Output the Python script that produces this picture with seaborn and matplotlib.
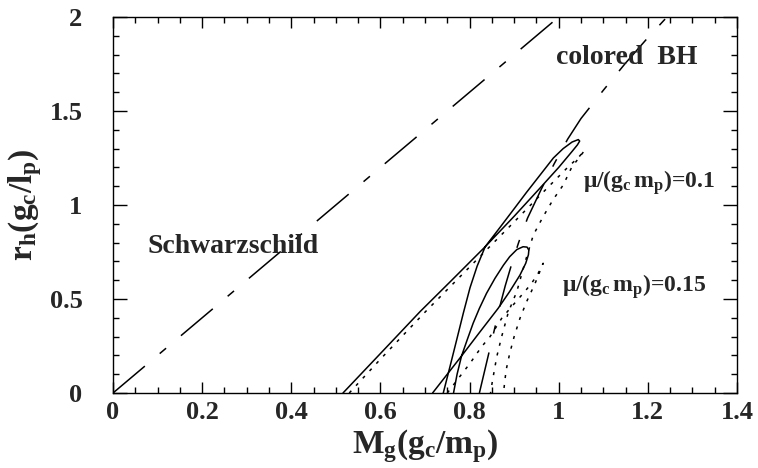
import matplotlib
matplotlib.use("Agg")
import matplotlib.pyplot as plt
import seaborn as sns
import pandas as pd

# ---------------- data ----------------
schw_M = [0.0, 1.0]
schw_r = [0.0, 2.0]

cbh_M = [0.822, 0.830, 0.840, 0.850, 0.860, 0.870, 0.880, 0.895, 0.910, 0.930, 0.960, 0.990,
         1.020, 1.050, 1.100, 1.150, 1.200, 1.243]
cbh_r = [0.00, 0.08, 0.18, 0.28, 0.38, 0.48, 0.57, 0.69, 0.80, 0.93, 1.08, 1.22,
         1.35, 1.46, 1.61, 1.755, 1.89, 2.00]

mu010_solid_M = [0.516, 0.600, 0.689, 0.760, 0.835, 0.900, 0.958, 1.000, 1.030, 1.042, 1.047,
                 1.044, 1.030, 1.010, 0.988, 0.960, 0.928, 0.900, 0.868, 0.835,
                 0.817, 0.801, 0.786, 0.771, 0.756, 0.741]
mu010_solid_r = [0.000, 0.210, 0.433, 0.600, 0.778, 0.940, 1.090, 1.200, 1.285, 1.320, 1.340,
                 1.348, 1.335, 1.300, 1.250, 1.165, 1.068, 0.980, 0.880, 0.778,
                 0.675, 0.560, 0.425, 0.282, 0.140, 0.000]

mu010_dot_M = [0.530, 0.600, 0.700, 0.800, 0.900, 0.970, 1.020, 1.045, 1.058,
               1.045, 1.029, 1.010, 0.987, 0.965, 0.943, 0.925, 0.906, 0.887, 0.872, 0.861, 0.851, 0.847]
mu010_dot_r = [0.000, 0.180, 0.430, 0.670, 0.910, 1.080, 1.200, 1.255, 1.290,
               1.250, 1.200, 1.106, 1.027, 0.938, 0.840, 0.700, 0.540, 0.430, 0.300, 0.193, 0.060, 0.000]

mu015_solid_M = [0.717, 0.750, 0.782, 0.820, 0.864, 0.890, 0.913, 0.926, 0.932, 0.933, 0.929,
                 0.920, 0.906, 0.890, 0.876, 0.857, 0.838, 0.822, 0.808, 0.795, 0.782, 0.772, 0.764]
mu015_solid_r = [0.000, 0.100, 0.197, 0.315, 0.450, 0.540, 0.627, 0.690, 0.735, 0.760, 0.776,
                 0.778, 0.763, 0.725, 0.680, 0.610, 0.530, 0.450, 0.371, 0.285, 0.197, 0.100, 0.000]

mu015_dot_M = [0.750, 0.775, 0.801, 0.827, 0.846, 0.872, 0.891, 0.924, 0.939, 0.954, 0.965,
               0.947, 0.928, 0.913, 0.900, 0.890, 0.882, 0.876]
mu015_dot_r = [0.000, 0.078, 0.158, 0.246, 0.300, 0.397, 0.450, 0.540, 0.583, 0.637, 0.690,
               0.583, 0.486, 0.397, 0.300, 0.210, 0.122, 0.000]

x_ticks = [0, 0.2, 0.4, 0.6, 0.8, 1.0, 1.2, 1.4]
x_ticklabels = ["0", "0.2", "0.4", "0.6", "0.8", "1", "1.2", "1.4"]
y_ticks = [0, 0.5, 1.0, 1.5, 2.0]
y_ticklabels = ["0", "0.5", "1", "1.5", "2"]

# ---------------- style ----------------
sns.set_style("ticks")
plt.rcParams["font.family"] = ["Liberation Serif", "DejaVu Serif"]
plt.rcParams["font.weight"] = "bold"
plt.rcParams["mathtext.fontset"] = "custom"
plt.rcParams["mathtext.rm"] = "Liberation Serif:bold"
plt.rcParams["mathtext.it"] = "Liberation Serif:bold"
plt.rcParams["mathtext.bf"] = "Liberation Serif:bold"
plt.rcParams["lines.scale_dashes"] = False

fig = plt.figure(figsize=(7.58, 4.68), dpi=100)
ax = fig.add_axes([113 / 758, 1 - 393 / 468, (737 - 113) / 758, (393 - 17) / 468])

dashdot = (0, (30, 14, 6, 14))
dotted = (0, (2.2, 5))
lw = 1.1

def draw(M, r, ls):
    df = pd.DataFrame({"M": M, "r": r})
    sns.lineplot(data=df, x="M", y="r", sort=False, estimator=None, ax=ax,
                 color="black", linewidth=lw, linestyle=ls)

draw(schw_M, schw_r, dashdot)
draw(cbh_M, cbh_r, dashdot)
draw(mu010_solid_M, mu010_solid_r, "-")
draw(mu015_solid_M, mu015_solid_r, "-")
draw(mu010_dot_M, mu010_dot_r, dotted)
draw(mu015_dot_M, mu015_dot_r, dotted)

ax.set_xlim(0, 1.4)
ax.set_ylim(0, 2)
ax.set_xticks(x_ticks)
ax.set_xticklabels(x_ticklabels)
ax.set_yticks(y_ticks)
ax.set_yticklabels(y_ticklabels)
ax.set_xticks([i * 0.05 for i in range(29)], minor=True)
ax.set_yticks([i * 0.1 for i in range(21)], minor=True)
ax.tick_params(which="both", direction="in", top=True, right=True, color="black", width=1.0)
ax.tick_params(axis="x", which="major", length=8, labelsize=19, pad=6)
ax.tick_params(axis="y", which="major", length=10, labelsize=19, pad=22)
ax.tick_params(which="minor", length=4.5)
for s in ax.spines.values():
    s.set_linewidth(1.0)
    s.set_color("black")

ax.set_xlabel(r"M$_{\rm g}$(g$_{\rm c}$/m$_{\rm p}$)", fontsize=24, fontweight="bold", labelpad=2)
ax.set_ylabel(r"r$_{\rm h}$(g$_{\rm c}$/l$_{\rm p}$)", fontsize=24, fontweight="bold", labelpad=4)

ax.text(0.270, 0.777, "Schwarzschild", fontsize=20, fontweight="bold", ha="center", va="center")
ax.text(1.153, 1.787, "colored  BH", fontsize=20, fontweight="bold", ha="center", va="center")
ax.text(1.2026, 1.117, r"μ/(g$_{\rm c}\,$m$_{\rm p}$)=0.1", fontsize=17, fontweight="bold",
        ha="center", va="center")
ax.text(1.169, 0.564, r"μ/(g$_{\rm c}\,$m$_{\rm p}$)=0.15", fontsize=17, fontweight="bold",
        ha="center", va="center")

fig.savefig("out.png", dpi=100)
